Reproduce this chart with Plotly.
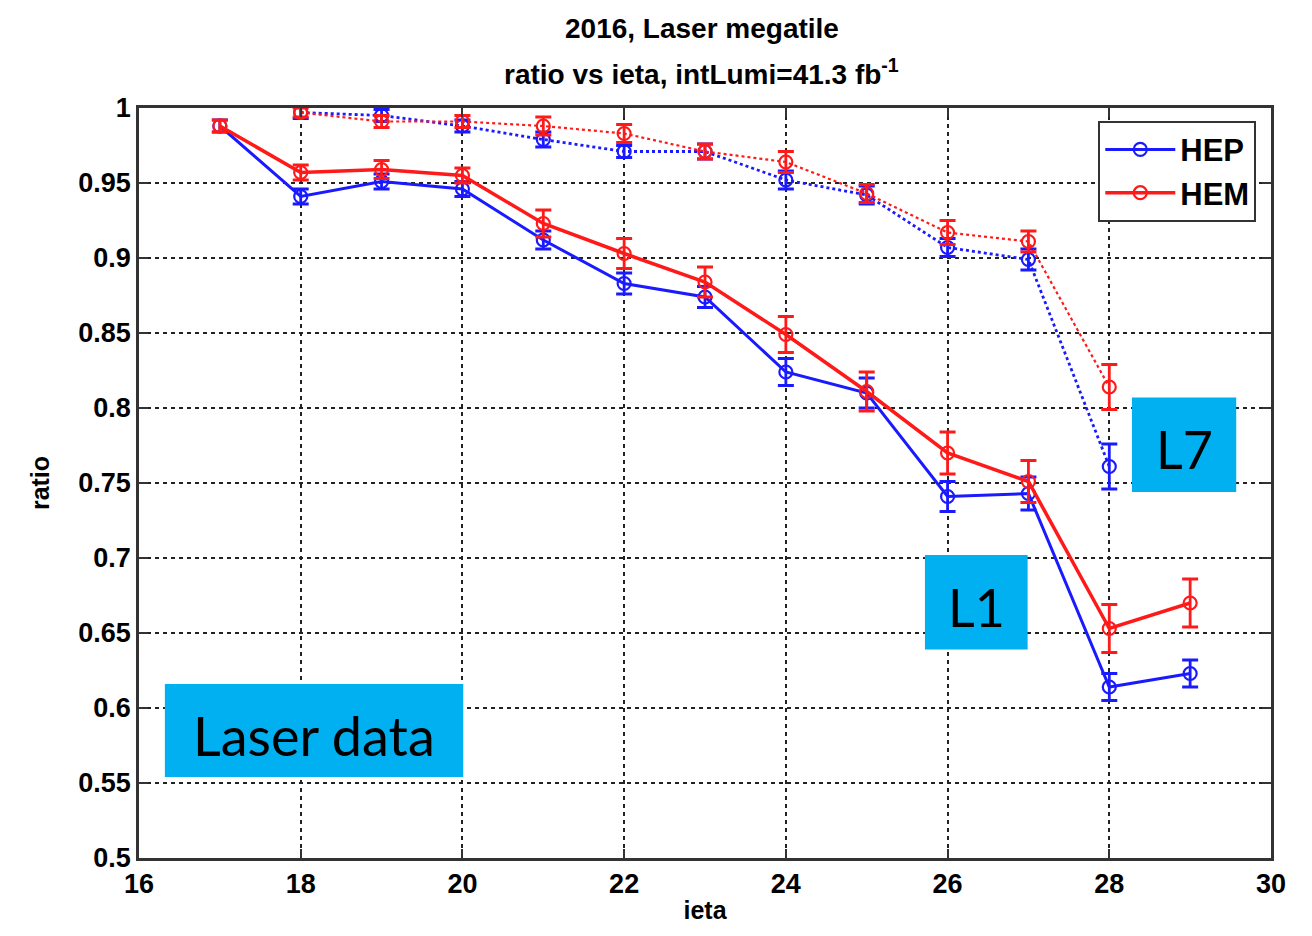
import plotly.graph_objects as go

# ieta bins
ieta_l1 = [17, 18, 19, 20, 21, 22, 23, 24, 25, 26, 27, 28, 29]
ieta_l7 = [18, 19, 20, 21, 22, 23, 24, 25, 26, 27, 28]

# Layer 1 (solid lines)
hep_l1 = [0.988, 0.941, 0.951, 0.946, 0.912, 0.883, 0.874, 0.824, 0.810, 0.741, 0.743, 0.614, 0.623]
hep_l1_err = [0.004, 0.005, 0.005, 0.005, 0.006, 0.007, 0.007, 0.009, 0.010, 0.010, 0.011, 0.009, 0.009]
hem_l1 = [0.988, 0.957, 0.959, 0.955, 0.923, 0.903, 0.884, 0.849, 0.811, 0.770, 0.751, 0.653, 0.670]
hem_l1_err = [0.004, 0.005, 0.006, 0.005, 0.009, 0.010, 0.010, 0.012, 0.013, 0.014, 0.014, 0.016, 0.016]

# Layer 7 (dotted lines)
hep_l7 = [0.997, 0.995, 0.988, 0.979, 0.971, 0.971, 0.952, 0.942, 0.907, 0.899, 0.761]
hep_l7_err = [0.004, 0.004, 0.004, 0.005, 0.004, 0.005, 0.006, 0.006, 0.006, 0.007, 0.015]
hem_l7 = [0.997, 0.991, 0.991, 0.988, 0.983, 0.971, 0.964, 0.943, 0.917, 0.911, 0.814]
hem_l7_err = [0.003, 0.004, 0.004, 0.006, 0.006, 0.005, 0.007, 0.006, 0.008, 0.007, 0.015]

BLUE = "#1a1aff"
RED = "#ff1a1a"

fig = go.Figure()


def add_series(x, y, err, color, dash, width, name, legend):
    fig.add_trace(go.Scatter(
        x=x, y=y, name=name, showlegend=legend,
        mode="lines+markers",
        line=dict(color=color, width=width, dash=dash),
        marker=dict(symbol="circle-open", size=13, color=color, line=dict(width=2.2, color=color)),
        error_y=dict(type="data", array=err, color=color, thickness=2.8, width=8, visible=True),
    ))


add_series(ieta_l7, hep_l7, hep_l7_err, BLUE, "dot", 2.8, "HEP", False)
add_series(ieta_l7, hem_l7, hem_l7_err, RED, "dot", 2.2, "HEM", False)
add_series(ieta_l1, hep_l1, hep_l1_err, BLUE, "solid", 3, "HEP", True)
add_series(ieta_l1, hem_l1, hem_l1_err, RED, "solid", 3.5, "HEM", True)

# labelled boxes
boxes = [
    (16.32, 20.01, 0.554, 0.616, "Laser data", 54),
    (25.72, 26.99, 0.639, 0.702, "L1", 52),
    (28.28, 29.57, 0.744, 0.807, "L7", 52),
]
for x0, x1, y0, y1, txt, fs in boxes:
    fig.add_shape(type="rect", x0=x0, x1=x1, y0=y0, y1=y1, xref="x", yref="y",
                  fillcolor="#00b0f0", line=dict(width=0), layer="above")
    fig.add_annotation(x=(x0 + x1) / 2, y=(y0 + y1) / 2 - 0.003, xref="x", yref="y", text=txt,
                       showarrow=False, font=dict(family="Lato", size=fs, color="black"))

# two-line title
title_font = dict(family="Liberation Sans", size=28, color="black", weight="bold")
fig.add_annotation(x=0.497, y=1.106, xref="paper", yref="paper", yanchor="middle",
                   text="2016, Laser megatile", showarrow=False, font=title_font)
fig.add_annotation(x=0.497, y=1.048, xref="paper", yref="paper", yanchor="middle",
                   text="ratio vs ieta, intLumi=41.3 fb<sup>-1</sup>", showarrow=False, font=title_font)

tick_font = dict(family="Liberation Sans", size=27, color="black", weight="bold")
label_font = dict(family="Liberation Sans", size=25, color="black", weight="bold")
grid = dict(showgrid=True, gridcolor="#222", griddash="4px,4px", gridwidth=1.5)
frame = dict(ticks="inside", ticklen=9, tickwidth=1.5, tickcolor="#333",
             showline=True, linecolor="#333", linewidth=2.5, mirror="ticks", zeroline=False)

fig.update_layout(
    width=1312, height=936,
    margin=dict(l=139, r=41, t=108, b=78),
    paper_bgcolor="white", plot_bgcolor="white",
    xaxis=dict(
        range=[16, 30], tickvals=[16, 18, 20, 22, 24, 26, 28, 30],
        tickfont=tick_font, title=dict(text="ieta", font=label_font, standoff=4),
        **grid, **frame,
    ),
    yaxis=dict(
        range=[0.5, 1.0], tickvals=[0.5, 0.55, 0.6, 0.65, 0.7, 0.75, 0.8, 0.85, 0.9, 0.95, 1.0],
        ticktext=["0.5", "0.55", "0.6", "0.65", "0.7", "0.75", "0.8", "0.85", "0.9", "0.95", "1"],
        tickfont=tick_font, title=dict(text="ratio", font=label_font, standoff=22),
        **grid, **frame,
    ),
    legend=dict(
        x=0.987, xanchor="right", y=0.983, yanchor="top",
        bgcolor="white", bordercolor="#333", borderwidth=2,
        font=dict(family="Liberation Sans", size=31, color="black", weight="bold"),
        itemwidth=70, tracegroupgap=2,
    ),
)

fig.write_html("out.html")
